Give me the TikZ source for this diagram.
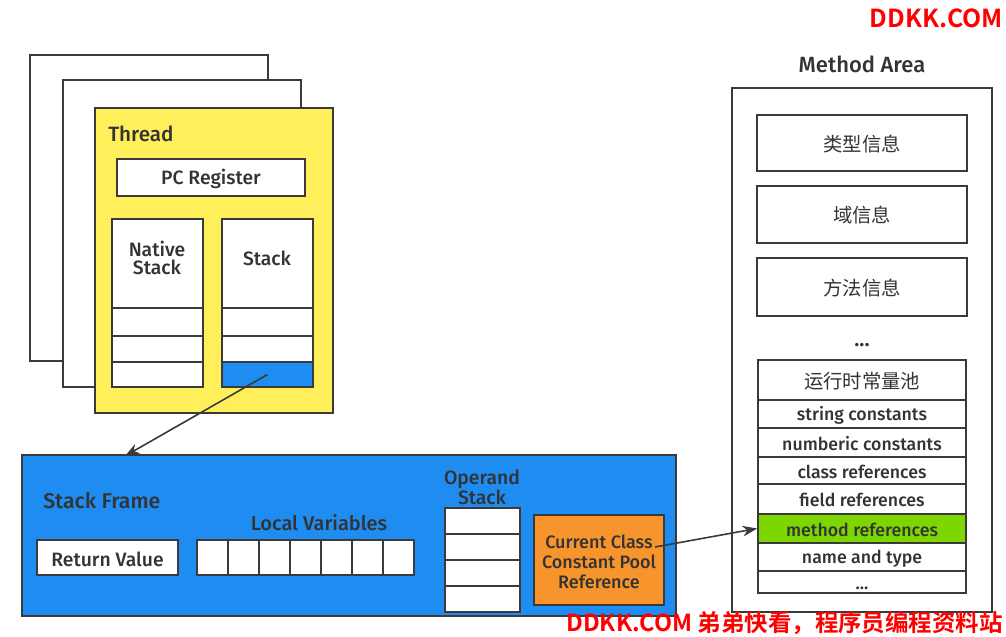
\documentclass[tikz,border=0pt]{standalone}
\usepackage{fontspec}
\setmainfont{Fira Sans}[BoldFont={Fira Sans Medium}]
\newfontfamily\cjk{Noto Sans CJK SC}[BoldFont={Noto Sans CJK SC Bold}]
\usetikzlibrary{fit,arrows.meta}
\definecolor{txt}{HTML}{333333}
\definecolor{edge}{HTML}{3A3A3A}
\definecolor{ythread}{HTML}{FFEF5A}
\definecolor{bframe}{HTML}{1E8CF0}
\definecolor{ocls}{HTML}{F7952C}
\definecolor{gref}{HTML}{7ED600}
\definecolor{wm}{HTML}{FF0000}
\tikzset{
  box/.style={draw=edge, line width=1.3pt, fill=white, inner sep=0pt},
  lbl/.style={text=txt, inner sep=0pt, align=center, font=\bfseries\fontsize{14.5}{16}\selectfont},
  inl/.style={lbl, yshift=-1.2pt},
  small/.style={text=txt, inner sep=0pt, align=center, yshift=-1pt, font=\bfseries\fontsize{13.3}{14}\selectfont},
  cjkf/.style={text=txt, inner sep=0pt, yshift=-0.8pt, font=\cjk\fontsize{14.5}{16}\selectfont},
  conn/.style={draw=edge, line width=1.2pt, -{Stealth[length=11pt,width=8pt]}},
  wmark/.style={text=wm, inner sep=0pt, font=\cjk\bfseries\fontsize{18.6}{20}\selectfont},
}
\begin{document}
\begin{tikzpicture}[x=0.75pt,y=-0.75pt]
\useasboundingbox (0,0) rectangle (1006,636);
% thread stack
\node[box, fit={(30,55)(268,361)}] (t1) {};
\node[box, fit={(63,80)(301,387)}] (t2) {};
\node[box, fill=ythread, fit={(95,108)(333,413)}] (thread) {};
\node[lbl, anchor=west, font=\bfseries\fontsize{15.5}{17}\selectfont] (threadl) at (108,134) {Thread};
\node[box, fit={(117,159)(305,196)}, label={[inl]center:PC Register}] (pc) {};
\node[box, fit={(112,219)(203,387)}] (ns) {};
\node[lbl] (nsl) at (157,258) {Native\\[-2pt]Stack};
\node[box, fit={(112,308)(203,336)}] (ns1) {};
\node[box, fit={(112,336)(203,362)}] (ns2) {};
\node[box, fit={(112,362)(203,387)}] (ns3) {};
\node[box, fit={(222,219)(313,387)}] (st) {};
\node[lbl] (stl) at (267,258) {Stack};
\node[box, fit={(222,308)(313,336)}] (st1) {};
\node[box, fit={(222,336)(313,362)}] (st2) {};
\node[box, fill=bframe, fit={(222,362)(313,387)}] (st3) {};
% stack frame
\node[box, fill=bframe, fit={(22,455)(676,616)}] (frame) {};
\node[lbl, anchor=west, font=\bfseries\fontsize{16}{18}\selectfont] (framel) at (43,501) {Stack Frame};
\node[lbl, font=\bfseries\fontsize{15}{17}\selectfont] (lvl) at (319,523) {Local Variables};
\node[box, fit={(37,540)(178,575)}, label={[inl]center:Return Value}] (rv) {};
\foreach \i in {1,...,7}{
  \node[box, fit={({197+(\i-1)*31},540)({197+\i*31},575)}] (lv\i) {};
}
\node[lbl] (osl) at (482,487) {Operand\\[-1pt]Stack};
\foreach \i in {1,...,4}{
  \node[box, fit={(445,{508+(\i-1)*26})(520,{508+\i*26})}] (os\i) {};
}
\node[box, fill=ocls, fit={(534,515)(664,605)}, label={[inl, font=\bfseries\fontsize{13.5}{15}\selectfont]center:Current Class\\Constant Pool\\Reference}] (ccp) {};
% method area
\node[lbl, font=\bfseries\fontsize{16.5}{18}\selectfont] (mal) at (862,64) {Method Area};
\node[box, fit={(732,88)(992,612)}] (ma) {};
\node[box, fit={(757,115)(967,171)}, label={[cjkf]center:类型信息}] (m1) {};
\node[box, fit={(757,186)(967,243)}, label={[cjkf]center:域信息}] (m2) {};
\node[box, fit={(757,258)(967,316)}, label={[cjkf]center:方法信息}] (m3) {};
\node[lbl, font=\bfseries\fontsize{16}{16}\selectfont] (mdots) at (862,345) {...};
\node[box, fit={(758,360)(966,400)}, label={[cjkf]center:运行时常量池}] (rc) {};
\node[box, fit={(758,400)(966,428)}, label={[small]center:string constants}] (r1) {};
\node[box, fit={(758,428)(966,457)}, label={[small]center:numberic constants}] (r2) {};
\node[box, fit={(758,457)(966,484)}, label={[small]center:class references}] (r3) {};
\node[box, fit={(758,484)(966,514)}, label={[small]center:field references}] (r4) {};
\node[box, fill=gref, fit={(758,514)(966,543)}, label={[small]center:method references}] (mref) {};
\node[box, fit={(758,543)(966,571)}, label={[small]center:name and type}] (r6) {};
\node[box, fit={(758,571)(966,593)}, label={[small, yshift=-3.5pt]center:...}] (r7) {};
% connectors
\coordinate (fr) at (125,456);
\draw[conn] (st3.center) -- (fr);
\coordinate (cs) at (655,547);
\draw[conn] (cs) -- (mref.west);
% watermarks
\node[wmark, anchor=east] (wm1) at (1003,18) {DDKK.COM};
\node[wmark, anchor=east, font=\cjk\bfseries\fontsize{17.6}{19}\selectfont] (wm2) at (1003,623) {DDKK.COM 弟弟快看，程序员编程资料站};
\end{tikzpicture}
\end{document}
